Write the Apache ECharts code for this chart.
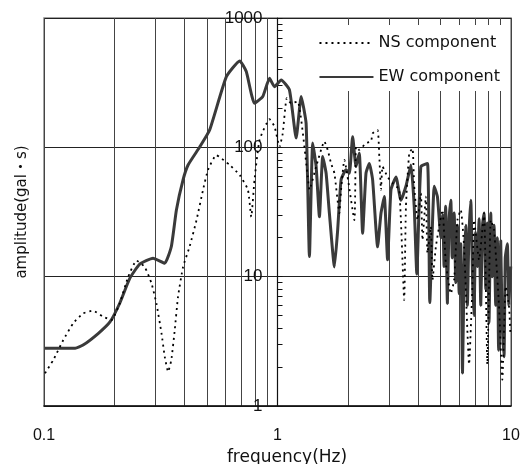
<!DOCTYPE html>
<html>
<head>
<meta charset="utf-8">
<script src="https://cdn.jsdelivr.net/npm/echarts@6/dist/echarts.min.js"></script>
<style>
html,body{margin:0;padding:0;background:#fff;}
#main{width:521px;height:464px;}
</style>
</head>
<body>
<div id="main"></div>
<script>
// frequency (Hz) / amplitude (gal·s)
var ewFreq = [0.101,0.136,0.147,0.171,0.192,0.211,0.233,0.257,0.293,0.329,0.351,0.369,0.394,0.414,0.465,0.512,0.604,0.689,0.735,0.797,0.865,0.924,0.971,1.037,1.125,1.202,1.263,1.326,1.37,1.415,1.464,1.512,1.562,1.615,1.668,1.753,1.81,1.872,1.966,2.031,2.098,2.169,2.24,2.315,2.393,2.473,2.555,2.684,2.775,2.867,2.961,3.062,3.216,3.378,3.548,3.728,3.85,3.95,4.11,4.39,4.49,4.69,4.84,5.01,5.1,5.17,5.25,5.34,5.43,5.525,5.6,5.71,5.8,5.895,6.0,6.095,6.2,6.3,6.4,6.505,6.6,6.727,6.85,6.948,7.05,7.178,7.3,7.422,7.55,7.667,7.8,7.92,8.05,8.19,8.3,8.461,8.6,8.741,8.85,9.036,9.15,9.335,9.45,9.643,9.8,9.97];
var ewAmp  = [2.8,2.8,2.96,3.65,4.49,6.23,9.7,12.5,13.9,12.7,17.1,32.8,56,73,101,136,352,466,385,219,247,342,294,332,278,118,247,153,14.3,108,71,29,85,63,31,11.9,23,56,67,63,121,71,90,21.7,63,75,56,17,31,41.6,13.5,47,59,39,50,73,35,10.5,71,75,6.3,50,41.6,20,30,12,35,6.2,28,39,14,31,9,25,7.4,18,1.8,12,25,6,20,39,9,5,22,12,28,6,25,31,8,26,4.4,31,10,25,6,20,2.7,19,5,2.4,14,18,6,12];
var nsFreq = [0.101,0.1096,0.121,0.1334,0.147,0.1624,0.179,0.1947,0.211,0.229,0.249,0.27,0.2886,0.303,0.3186,0.329,0.34,0.351,0.363,0.375,0.394,0.42,0.45,0.48,0.504,0.547,0.624,0.689,0.747,0.772,0.797,0.838,0.924,0.971,1.02,1.053,1.096,1.144,1.221,1.348,1.37,1.464,1.588,1.641,1.696,1.753,1.84,1.872,1.933,2.134,2.169,2.24,2.393,2.514,2.555,2.684,2.729,2.775,2.818,2.961,3.11,3.322,3.488,3.548,3.665,3.787,3.851,3.978,4.113,4.178,4.32,4.388,4.537,4.61,4.766,4.923,5.087,5.259,5.525,5.707,5.895,6.095,6.297,6.614,6.833,6.948,7.298,7.667,7.92,8.19,8.461,8.887,9.18,9.493,9.806,9.95];
var nsAmp  = [1.79,2.27,3.24,4.36,5.2,5.46,4.9,4.63,6.2,9.9,13.3,11.9,8.9,6.2,3.65,2.4,1.84,2.27,3.87,7.0,11.9,17,27.4,47,67,87,73,61,47,29,56,114,165,145,101,128,240,219,226,59,47,71,111,95.5,75,63,31,47,80,27.4,101,95.5,108,111,128,136,85,47,71,59,53,47,6.6,34.7,90,98,50,27.4,44,19.2,41.6,15.2,24.4,9.4,17,24.4,32.8,12.7,7.4,9.4,27.4,32.8,17,2.1,8.4,27.4,13.5,31,2.1,27.4,23,5.9,1.6,8.4,5.9,3.5];
var xTickLabels = ['0.1','1','10'];
var yTickLabels = ['1','10','100','1000'];
var seriesNames = ['NS component','EW component'];

function pairs(fx, ay){ return fx.map(function(f,i){ return [f, ay[i]]; }); }

var numFont = 'Liberation Sans, Arial, sans-serif';
var txtFont = 'DejaVu Sans, Noto Sans CJK JP, sans-serif';

var chart = echarts.init(document.getElementById('main'), null, {renderer:'canvas'});
chart.setOption({
  animation:false,
  backgroundColor:'#fff',
  grid:{left:44,right:10,top:18,bottom:58,show:true,borderColor:'#888',borderWidth:1.5,backgroundColor:'transparent',outerBoundsMode:'none',containLabel:false},
  legend:{
    orient:'vertical', right:11, top:25,
    backgroundColor:'#fff',
    padding:[10,10,6,22],
    itemGap:18, itemWidth:54, itemHeight:16,
    itemStyle:{opacity:0},
    textStyle:{fontFamily:txtFont,fontSize:16,color:'#111'},
    data:seriesNames
  },
  xAxis:{
    type:'log', logBase:10, min:0.1, max:10,
    name:'frequency(Hz)', nameLocation:'middle', nameGap:42,
    nameTextStyle:{fontFamily:txtFont,fontSize:17,color:'#111',padding:[0,0,0,19]},
    axisLine:{show:true,lineStyle:{color:'#111',width:1.5}},
    axisTick:{show:false},
    axisLabel:{margin:22,fontFamily:numFont,fontSize:16,color:'#111',
      formatter:function(v){ var s=String(+v.toPrecision(3)); return xTickLabels.indexOf(s)>=0?s:''; }},
    splitLine:{show:true,lineStyle:{color:'#444',width:1}},
    minorTick:{show:false,splitNumber:9},
    minorSplitLine:{show:true,lineStyle:{color:'#444',width:1}}
  },
  yAxis:[{
    type:'log', logBase:10, min:1, max:1000,
    name:'amplitude(gal・s)', nameLocation:'middle', nameGap:14,
    nameTextStyle:{fontFamily:txtFont,fontSize:15,color:'#111'},
    axisLine:{show:false}, axisTick:{show:false}, axisLabel:{show:false},
    splitLine:{show:true,lineStyle:{color:'#222',width:1}}
  },{
    type:'log', logBase:10, min:1, max:1000, position:'left', offset:-233.5,
    axisLine:{show:true,lineStyle:{color:'#111',width:1.2}},
    axisTick:{show:true,inside:true,length:5,lineStyle:{color:'#111'}},
    minorTick:{show:true,splitNumber:9,length:5,lineStyle:{color:'#111'}},
    axisLabel:{margin:15,fontFamily:numFont,fontSize:17,color:'#111',
      formatter:function(v){ var s=String(+v.toPrecision(3)); return yTickLabels.indexOf(s)>=0?s:''; }},
    splitLine:{show:false}
  }],
  series:[{
    name:seriesNames[0], type:'line', yAxisIndex:0, symbol:'none', smooth:0.15,
    lineStyle:{color:'#000',width:1.8,type:[2,4]},
    itemStyle:{color:'#000'},
    data:pairs(nsFreq,nsAmp), z:3
  },{
    name:seriesNames[1], type:'line', yAxisIndex:0, symbol:'none', smooth:0.15,
    lineStyle:{color:'#3a3a3a',width:3},
    itemStyle:{color:'#3a3a3a'},
    data:pairs(ewFreq,ewAmp), z:2
  }]
});
</script>
</body>
</html>
